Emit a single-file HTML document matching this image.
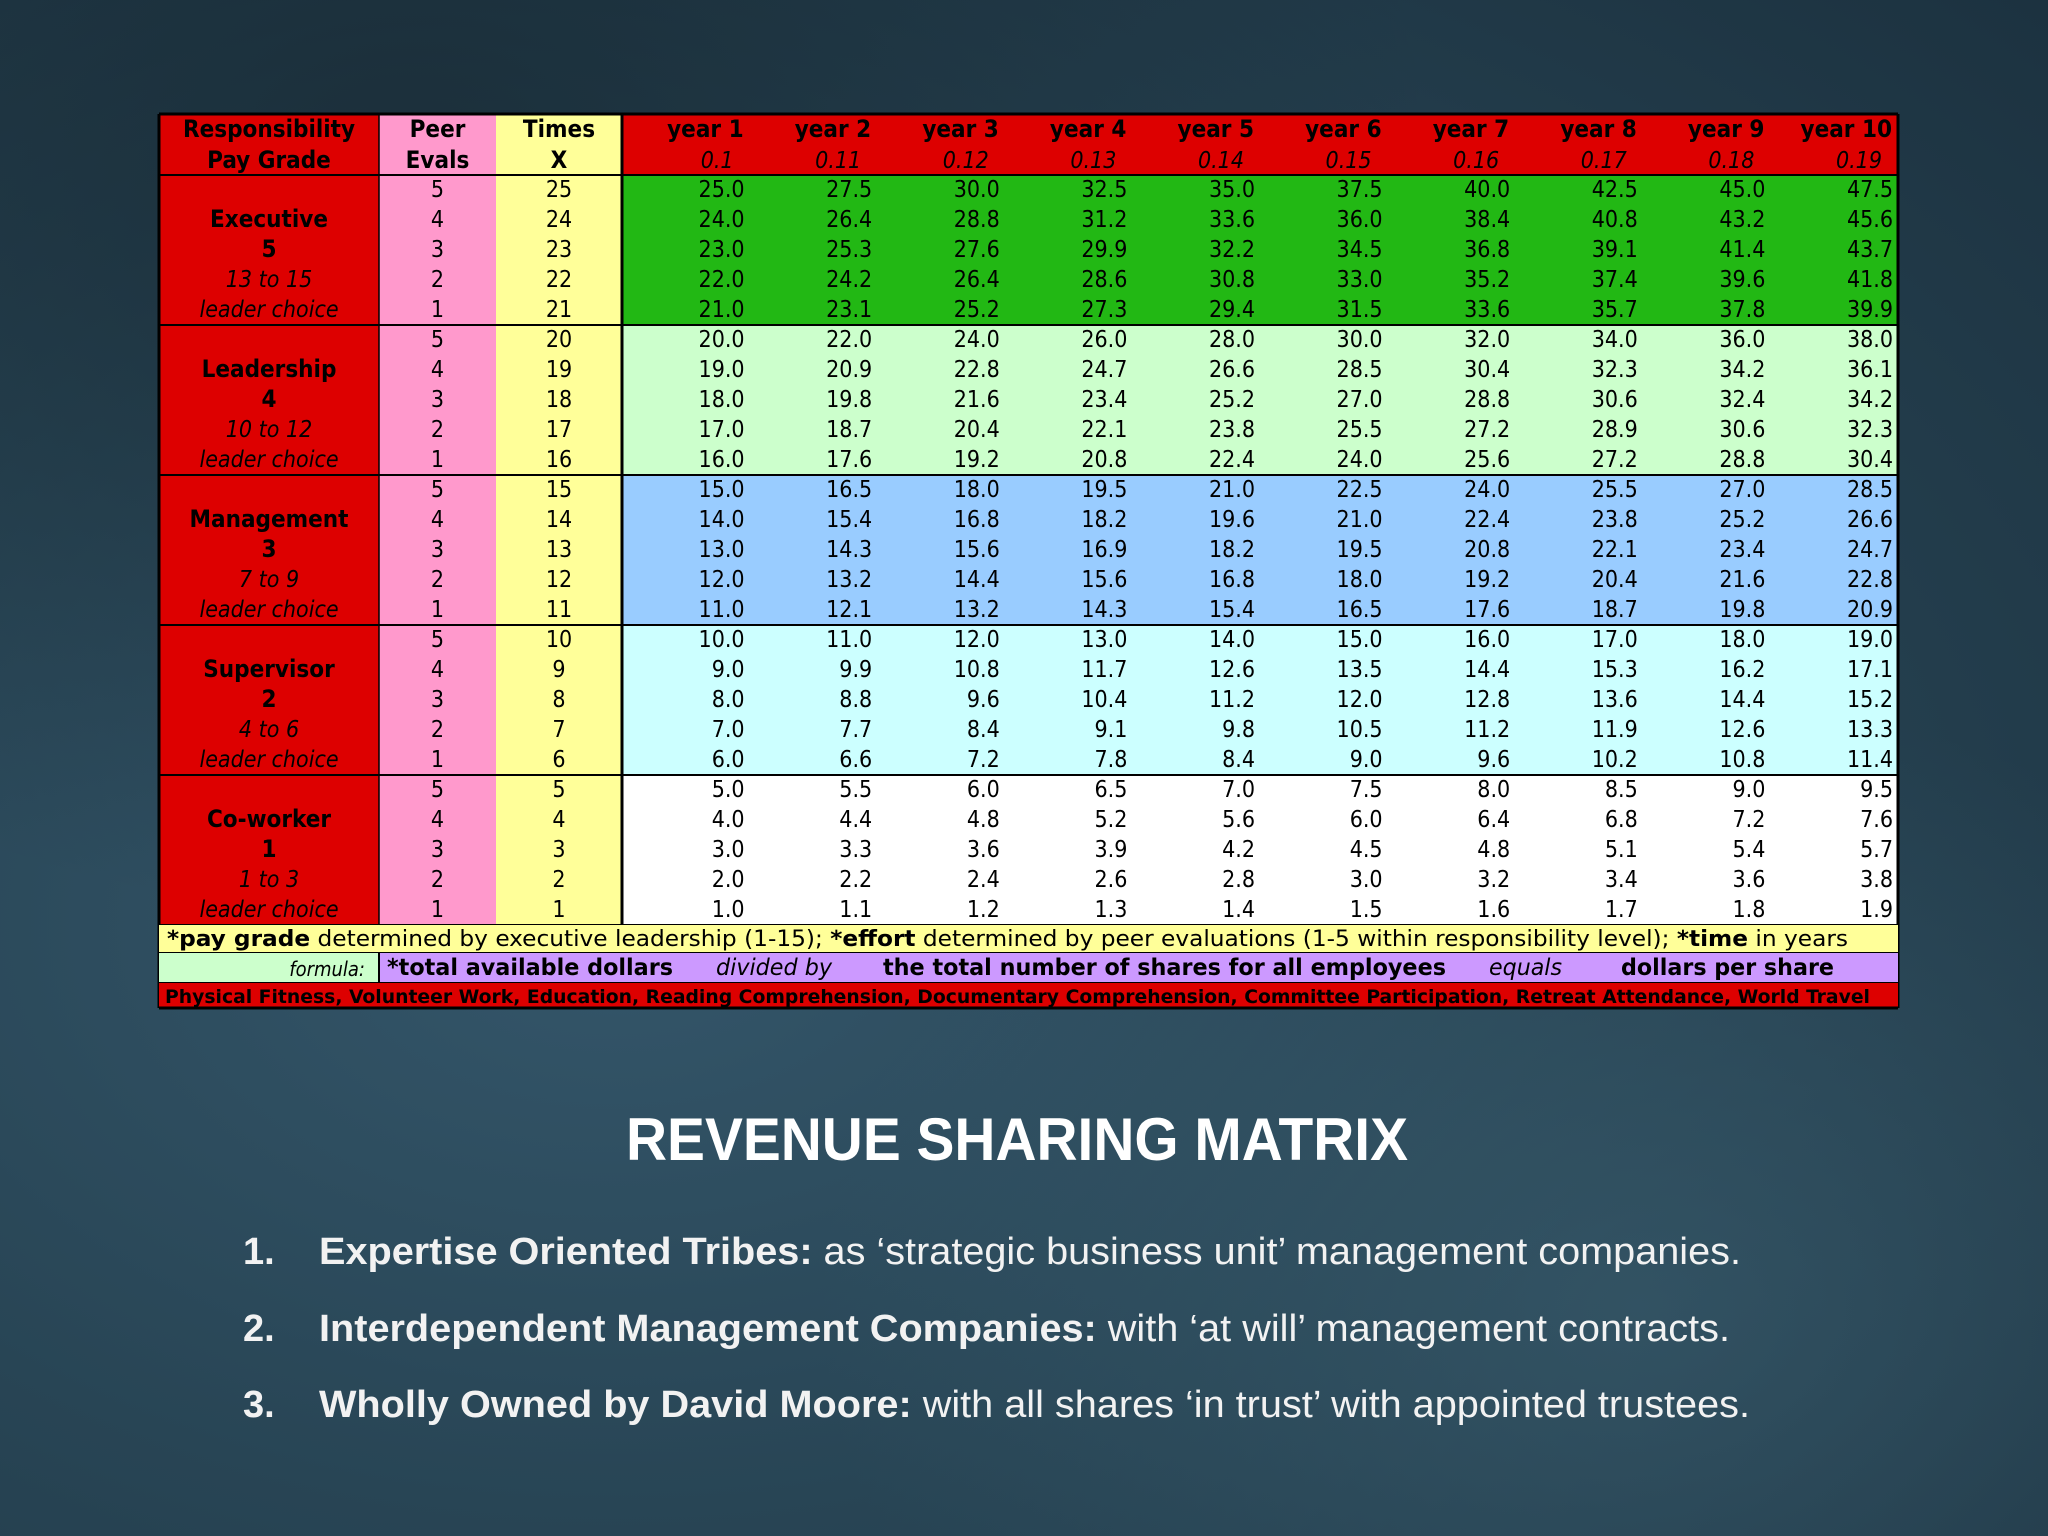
<!DOCTYPE html>
<html><head><meta charset="utf-8"><style>
html,body{margin:0;padding:0;width:2048px;height:1536px;overflow:hidden;}
body{background:radial-gradient(ellipse at 30% 60%,#34566a 0%,#284555 45%,#1c3240 100%);}
svg{position:absolute;left:0;top:0;}
</style></head><body>
<svg id="s" width="2048" height="1536" xmlns="http://www.w3.org/2000/svg">
<defs>
<radialGradient id="bg1" cx="0.2" cy="0.1" r="0.5"><stop offset="0" stop-color="#15252e" stop-opacity="0.6"/><stop offset="1" stop-color="#15252e" stop-opacity="0"/></radialGradient>
<radialGradient id="bg2" cx="0.8" cy="0.85" r="0.4"><stop offset="0" stop-color="#42687a" stop-opacity="0.45"/><stop offset="1" stop-color="#42687a" stop-opacity="0"/></radialGradient>
</defs>
<rect width="2048" height="1536" fill="url(#bg1)"/>
<rect width="2048" height="1536" fill="url(#bg2)"/>
<g id="tbl"></g>
<text x="1017" y="1160" text-anchor="middle" font-family="Liberation Sans, sans-serif" font-weight="bold" font-size="60" fill="#ffffff" textLength="782" lengthAdjust="spacingAndGlyphs">REVENUE SHARING MATRIX</text>
<g font-family="Liberation Sans, sans-serif" font-size="38" fill="#f2f2f2">
<text x="243" y="1264" font-weight="bold">1.</text>
<text x="319" y="1264" textLength="1422" lengthAdjust="spacingAndGlyphs"><tspan font-weight="bold">Expertise Oriented Tribes:</tspan> as ‘strategic business unit’ management companies.</text>
<text x="243" y="1341" font-weight="bold">2.</text>
<text x="319" y="1341" textLength="1411" lengthAdjust="spacingAndGlyphs"><tspan font-weight="bold">Interdependent Management Companies:</tspan> with ‘at will’ management contracts.</text>
<text x="243" y="1417" font-weight="bold">3.</text>
<text x="319" y="1417" textLength="1431" lengthAdjust="spacingAndGlyphs"><tspan font-weight="bold">Wholly Owned by David Moore:</tspan> with all shares ‘in trust’ with appointed trustees.</text>
</g>
</svg>
<script>
const years=["year 1","year 2","year 3","year 4","year 5","year 6","year 7","year 8","year 9","year 10"];
const factors=["0.1","0.11","0.12","0.13","0.14","0.15","0.16","0.17","0.18","0.19"];
const levels=["Executive","Leadership","Management","Supervisor","Co-worker"];
const grades=["5","4","3","2","1"];
const ranges=["13 to 15","10 to 12","7 to 9","4 to 6","1 to 3"];
const peer=[5,4,3,2,1];
const times=[25,24,23,22,21,20,19,18,17,16,15,14,13,12,11,10,9,8,7,6,5,4,3,2,1];
const values=[
[25.0,27.5,30.0,32.5,35.0,37.5,40.0,42.5,45.0,47.5],
[24.0,26.4,28.8,31.2,33.6,36.0,38.4,40.8,43.2,45.6],
[23.0,25.3,27.6,29.9,32.2,34.5,36.8,39.1,41.4,43.7],
[22.0,24.2,26.4,28.6,30.8,33.0,35.2,37.4,39.6,41.8],
[21.0,23.1,25.2,27.3,29.4,31.5,33.6,35.7,37.8,39.9],
[20.0,22.0,24.0,26.0,28.0,30.0,32.0,34.0,36.0,38.0],
[19.0,20.9,22.8,24.7,26.6,28.5,30.4,32.3,34.2,36.1],
[18.0,19.8,21.6,23.4,25.2,27.0,28.8,30.6,32.4,34.2],
[17.0,18.7,20.4,22.1,23.8,25.5,27.2,28.9,30.6,32.3],
[16.0,17.6,19.2,20.8,22.4,24.0,25.6,27.2,28.8,30.4],
[15.0,16.5,18.0,19.5,21.0,22.5,24.0,25.5,27.0,28.5],
[14.0,15.4,16.8,18.2,19.6,21.0,22.4,23.8,25.2,26.6],
[13.0,14.3,15.6,16.9,18.2,19.5,20.8,22.1,23.4,24.7],
[12.0,13.2,14.4,15.6,16.8,18.0,19.2,20.4,21.6,22.8],
[11.0,12.1,13.2,14.3,15.4,16.5,17.6,18.7,19.8,20.9],
[10.0,11.0,12.0,13.0,14.0,15.0,16.0,17.0,18.0,19.0],
[9.0,9.9,10.8,11.7,12.6,13.5,14.4,15.3,16.2,17.1],
[8.0,8.8,9.6,10.4,11.2,12.0,12.8,13.6,14.4,15.2],
[7.0,7.7,8.4,9.1,9.8,10.5,11.2,11.9,12.6,13.3],
[6.0,6.6,7.2,7.8,8.4,9.0,9.6,10.2,10.8,11.4],
[5.0,5.5,6.0,6.5,7.0,7.5,8.0,8.5,9.0,9.5],
[4.0,4.4,4.8,5.2,5.6,6.0,6.4,6.8,7.2,7.6],
[3.0,3.3,3.6,3.9,4.2,4.5,4.8,5.1,5.4,5.7],
[2.0,2.2,2.4,2.6,2.8,3.0,3.2,3.4,3.6,3.8],
[1.0,1.1,1.2,1.3,1.4,1.5,1.6,1.7,1.8,1.9]];
const blockColors=["#22b814","#ccffcc","#99ccff","#ccffff","#ffffff"];

const NS="http://www.w3.org/2000/svg";
const g=document.getElementById('tbl');
const FONT='"DejaVu Sans Condensed","DejaVu Sans",sans-serif';
const L=159,C1=379,C2=496,C3=622,R=1898,YW=(R-C3)/10;
const HT=114,HB=175,RH=30;
function rowY(i){return HB+i*RH;}
function colX(j){return C3+j*YW;}
function rect(x,y,w,h,fill,name){const r=document.createElementNS(NS,'rect');r.setAttribute('x',x);r.setAttribute('y',y);r.setAttribute('width',w);r.setAttribute('height',h);r.setAttribute('fill',fill);


g.appendChild(r);return r;}
function text(x,y,s,opt,name){const t=document.createElementNS(NS,'text');t.setAttribute('x',x);t.setAttribute('y',y);t.setAttribute('font-family',FONT);t.setAttribute('font-size',opt.size||23);t.setAttribute('fill',opt.fill||'#000');
if(opt.anchor)t.setAttribute('text-anchor',opt.anchor);if(opt.bold)t.setAttribute('font-weight','bold');if(opt.italic)t.setAttribute('font-style','italic');
if(opt.len){t.setAttribute('textLength',opt.len);t.setAttribute('lengthAdjust','spacingAndGlyphs');}
t.textContent=s;


g.appendChild(t);return t;}
function line(x1,y1,x2,y2,w,name){const l=document.createElementNS(NS,'line');l.setAttribute('x1',x1);l.setAttribute('y1',y1);l.setAttribute('x2',x2);l.setAttribute('y2',y2);l.setAttribute('stroke','#000');l.setAttribute('stroke-width',w);


g.appendChild(l);}

const nRows=times.length;
const dataBottom=rowY(nRows);
rect(L,HT,C1-L,dataBottom-HT,'#dd0000','pay-grade-column');
rect(C1,HT,C2-C1,dataBottom-HT,'#ff99cc','peer-evals-column');
rect(C2,HT,C3-C2,dataBottom-HT,'#ffff99','times-column');
rect(C3,HT,R-C3,HB-HT,'#dd0000','year-header-band');
levels.forEach((lv,b)=>{rect(C3,rowY(b*5),R-C3,RH*5,blockColors[b],'block-'+lv.toLowerCase());});
text((L+C1)/2,HT+23,'Responsibility',{bold:true,anchor:'middle',size:24},'header-responsibility');
text((L+C1)/2,HT+54,'Pay Grade',{bold:true,anchor:'middle',size:24},'header-pay-grade');
text((C1+C2)/2,HT+23,'Peer',{bold:true,anchor:'middle',size:24},'header-peer');
text((C1+C2)/2,HT+54,'Evals',{bold:true,anchor:'middle',size:24},'header-evals');
text((C2+C3)/2,HT+23,'Times',{bold:true,anchor:'middle',size:24},'header-times');
text((C2+C3)/2,HT+54,'X',{bold:true,anchor:'middle',size:24},'header-x');
years.forEach((y,j)=>{text(colX(j+1)-6,HT+23,y,{bold:true,anchor:'end',size:24},'header-'+y.replace(' ','-'));
text(colX(j+1)-16,HT+54,factors[j],{italic:true,anchor:'end'},'factor-'+(j+1));});
levels.forEach((lv,b)=>{
 const cx=(L+C1)/2,base=rowY(b*5);
 text(cx,base+RH*1+22,lv,{bold:true,anchor:'middle',size:24},'level-'+lv.toLowerCase());
 text(cx,base+RH*2+22,grades[b],{bold:true,anchor:'middle',size:24},'grade-'+grades[b]);
 text(cx,base+RH*3+22,ranges[b],{italic:true,anchor:'middle'},'range-'+b);
 text(cx,base+RH*4+22,'leader choice',{italic:true,anchor:'middle'},'leader-choice-'+b);
});
for(let i=0;i<nRows;i++){
 const y=rowY(i)+22;
 text((C1+C2)/2,y,String(peer[i%5]),{anchor:'middle'},'peer-eval-'+i);
 text((C2+C3)/2,y,String(times[i]),{anchor:'middle'},'times-'+times[i]);
 values[i].forEach((v,j)=>{text(colX(j+1)-5,y,v.toFixed(1),{anchor:'end'},'value-r'+i+'-y'+(j+1));});
}
line(L,HT,R,HT,3,'table-top-border');
line(L,HB,R,HB,2,'header-bottom-line');
for(let b=1;b<=5;b++)line(L,rowY(b*5),R,rowY(b*5),2,'block-line-'+b);
line(C3,HT,C3,dataBottom,3,'year-divider');
line(C1,HT,C1,dataBottom,1.5,'pay-grade-divider');
line(L,HT,L,1008,3,'table-left-border');
line(R,HT,R,1008,3,'table-right-border');
const FY=dataBottom,FH=953-dataBottom;
rect(L,FY,R-L,FH,'#ffff99','footnote-row');
const ft=text(167,FY+21,'',{size:22,len:1681},'footnote-text');
ft.innerHTML='<tspan font-weight="bold">*pay grade</tspan> determined by executive leadership (1-15);  <tspan font-weight="bold">*effort</tspan> determined by peer evaluations (1-5 within responsibility level);  <tspan font-weight="bold">*time</tspan> in years';
line(L,953,R,953,2,'footnote-bottom-line');
rect(L,953,C1-L,30,'#ccffcc','formula-label-cell');
rect(C1,953,R-C1,30,'#cc99ff','formula-cell');
text(C1-14,976,'formula:',{italic:true,anchor:'end',size:20},'formula-label');
text(387,975,'*total available dollars',{bold:true,size:23,len:286},'formula-dividend');
text(716,975,'divided by',{italic:true,size:23,len:116},'formula-divided-by');
text(883,975,'the total number of shares for all employees',{bold:true,size:23,len:563},'formula-divisor');
text(1489,975,'equals',{italic:true,size:23,len:73},'formula-equals');
text(1621,975,'dollars per share',{bold:true,size:23,len:213},'formula-result');
line(C1,953,C1,983,2,'formula-divider');
line(L,983,R,983,2,'formula-bottom-line');
rect(L,983,R-L,25,'#dd0000','criteria-row');
text(165,1003,'Physical Fitness, Volunteer Work, Education, Reading Comprehension, Documentary Comprehension, Committee Participation, Retreat Attendance, World Travel',{bold:true,size:19,len:1705},'criteria-text');
line(L,1008,R,1008,3,'table-bottom-border');
</script>
</body></html>
